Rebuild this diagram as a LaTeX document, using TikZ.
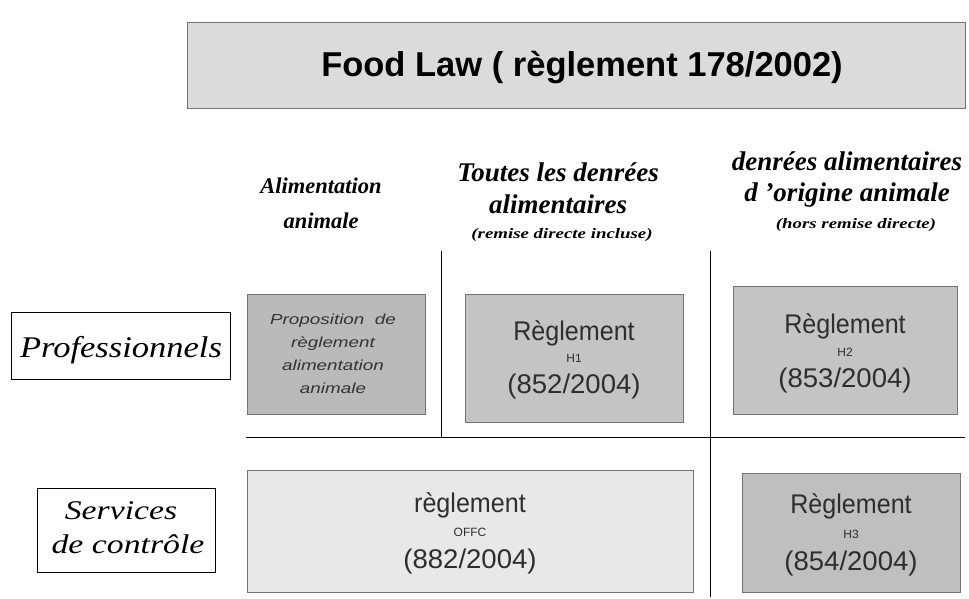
\documentclass[tikz,border=0pt]{standalone}
\usepackage{fontspec}
\setmainfont{Liberation Serif}
\setsansfont{Liberation Sans}
\newfontfamily\sansn[FakeStretch=0.93]{Liberation Sans}
\newfontfamily\sansw[FakeStretch=1.02]{Liberation Sans}
\newfontfamily\sansp[FakeStretch=1.3]{Liberation Sans}
\newfontfamily\serifw[FakeStretch=1.15]{Liberation Serif}
\newfontfamily\serifs[FakeStretch=1.25]{Liberation Serif}
\newfontfamily\serifx[FakeStretch=1.3]{Liberation Serif}
\begin{document}
\begin{tikzpicture}[x=1pt,y=-1pt,
  box/.style={draw=black!55, line width=0.8pt, inner sep=0pt},
  lbl/.style={draw=black, line width=1pt, fill=white, inner sep=0pt},
  hdr/.style={font=\fontsize{27}{32}\selectfont\bfseries\itshape, anchor=base, inner sep=0pt},
  hdrsmall/.style={font=\serifx\fontsize{14.5}{16}\selectfont\bfseries\itshape, anchor=base, inner sep=0pt},
  txt/.style={align=center, inner sep=0pt},
  rega/.style={font=\sansn\fontsize{27}{28}\selectfont, text=black!82, anchor=base, inner sep=0pt},
  regb/.style={font=\sffamily\fontsize{12}{12}\selectfont, text=black!82, anchor=base, inner sep=0pt},
  regc/.style={font=\sansw\fontsize{27}{28}\selectfont, text=black!82, anchor=base, inner sep=0pt},
  rule/.style={line width=1pt}]
\useasboundingbox (0,0) rectangle (969,599);
% title
\draw[box, fill=black!14] (187,22) rectangle (965,108);
\node[txt, font=\sffamily\bfseries\fontsize{34.5}{40}\selectfont, anchor=base] (title) at (582,77) {Food Law ( règlement 178/2002)};
% headers
\node[hdr, font=\fontsize{22.5}{30}\selectfont\bfseries\itshape] (h1a) at (321,193) {Alimentation};
\node[hdr, font=\fontsize{22.5}{30}\selectfont\bfseries\itshape] (h1b) at (321,228) {animale};
\node[hdr] (h2a) at (558,181) {Toutes les denrées};
\node[hdr] (h2b) at (558,213) {alimentaires};
\node[hdrsmall] (h2c) at (562,238) {(remise directe incluse)};
\node[hdr] (h3a) at (847,170) {denrées alimentaires};
\node[hdr] (h3b) at (847,201) {d 'origine animale};
\node[hdrsmall] (h3c) at (856,228) {(hors remise directe)};
% grid lines
\coordinate (v1t) at (441,251); \coordinate (v1b) at (441,437);
\coordinate (v2t) at (710,251); \coordinate (v2b) at (710,597);
\coordinate (hl) at (246,437); \coordinate (hr) at (965,437);
\draw[rule] (v1t) -- (v1b);
\draw[rule] (v2t) -- (v2b);
\draw[rule] (hl) -- (hr);
% row labels
\node[lbl, minimum width=219pt, minimum height=67pt] (prof) at (121,346) {};
\node[inner sep=0pt, anchor=base, font=\serifw\itshape\fontsize{30}{34}\selectfont] (proft) at (121,357) {Professionnels};
\node[lbl, minimum width=178pt, minimum height=84pt] (serv) at (126,530) {};
\node[inner sep=0pt, anchor=base, font=\serifs\itshape\fontsize{27}{31}\selectfont] (serva) at (121,519) {Services};
\node[inner sep=0pt, anchor=base, font=\serifs\itshape\fontsize{27}{31}\selectfont] (servb) at (128,553) {de contrôle};
% boxes
\node[box, fill=black!27, minimum width=178pt, minimum height=120pt] (prop) at (336,354) {};
\node[txt, text=black!80, font=\sansp\itshape\fontsize{14.5}{23}\selectfont] (propt) at (333,354) {Proposition\ \ de\\règlement\\alimentation\\animale};
\node[box, fill=black!23, minimum width=218pt, minimum height=128pt] (r1) at (574,358) {};
\node[rega] (r1a) at ([yshift=18pt]r1.center) {Règlement};
\node[regb] (r1b) at ([yshift=-4pt]r1.center) {H1};
\node[regc] (r1c) at ([yshift=-35pt]r1.center) {(852/2004)};
\node[box, fill=black!23, minimum width=224pt, minimum height=128pt] (r2) at (845,350) {};
\node[rega] (r2a) at ([yshift=17pt]r2.center) {Règlement};
\node[regb] (r2b) at ([yshift=-6pt]r2.center) {H2};
\node[regc] (r2c) at ([yshift=-37pt]r2.center) {(853/2004)};
\node[box, fill=black!9, minimum width=446pt, minimum height=122pt] (offc) at (470,531) {};
\node[rega] (oa) at ([yshift=19pt]offc.center) {règlement};
\node[regb] (ob) at ([yshift=-5pt]offc.center) {OFFC};
\node[regc] (oc) at ([yshift=-37pt]offc.center) {(882/2004)};
\node[box, fill=black!25, minimum width=218pt, minimum height=119pt] (r3) at (851,532.5) {};
\node[rega] (r3a) at ([yshift=19.5pt]r3.center) {Règlement};
\node[regb] (r3b) at ([yshift=-5.5pt]r3.center) {H3};
\node[regc] (r3c) at ([yshift=-37.5pt]r3.center) {(854/2004)};
\end{tikzpicture}
\end{document}
